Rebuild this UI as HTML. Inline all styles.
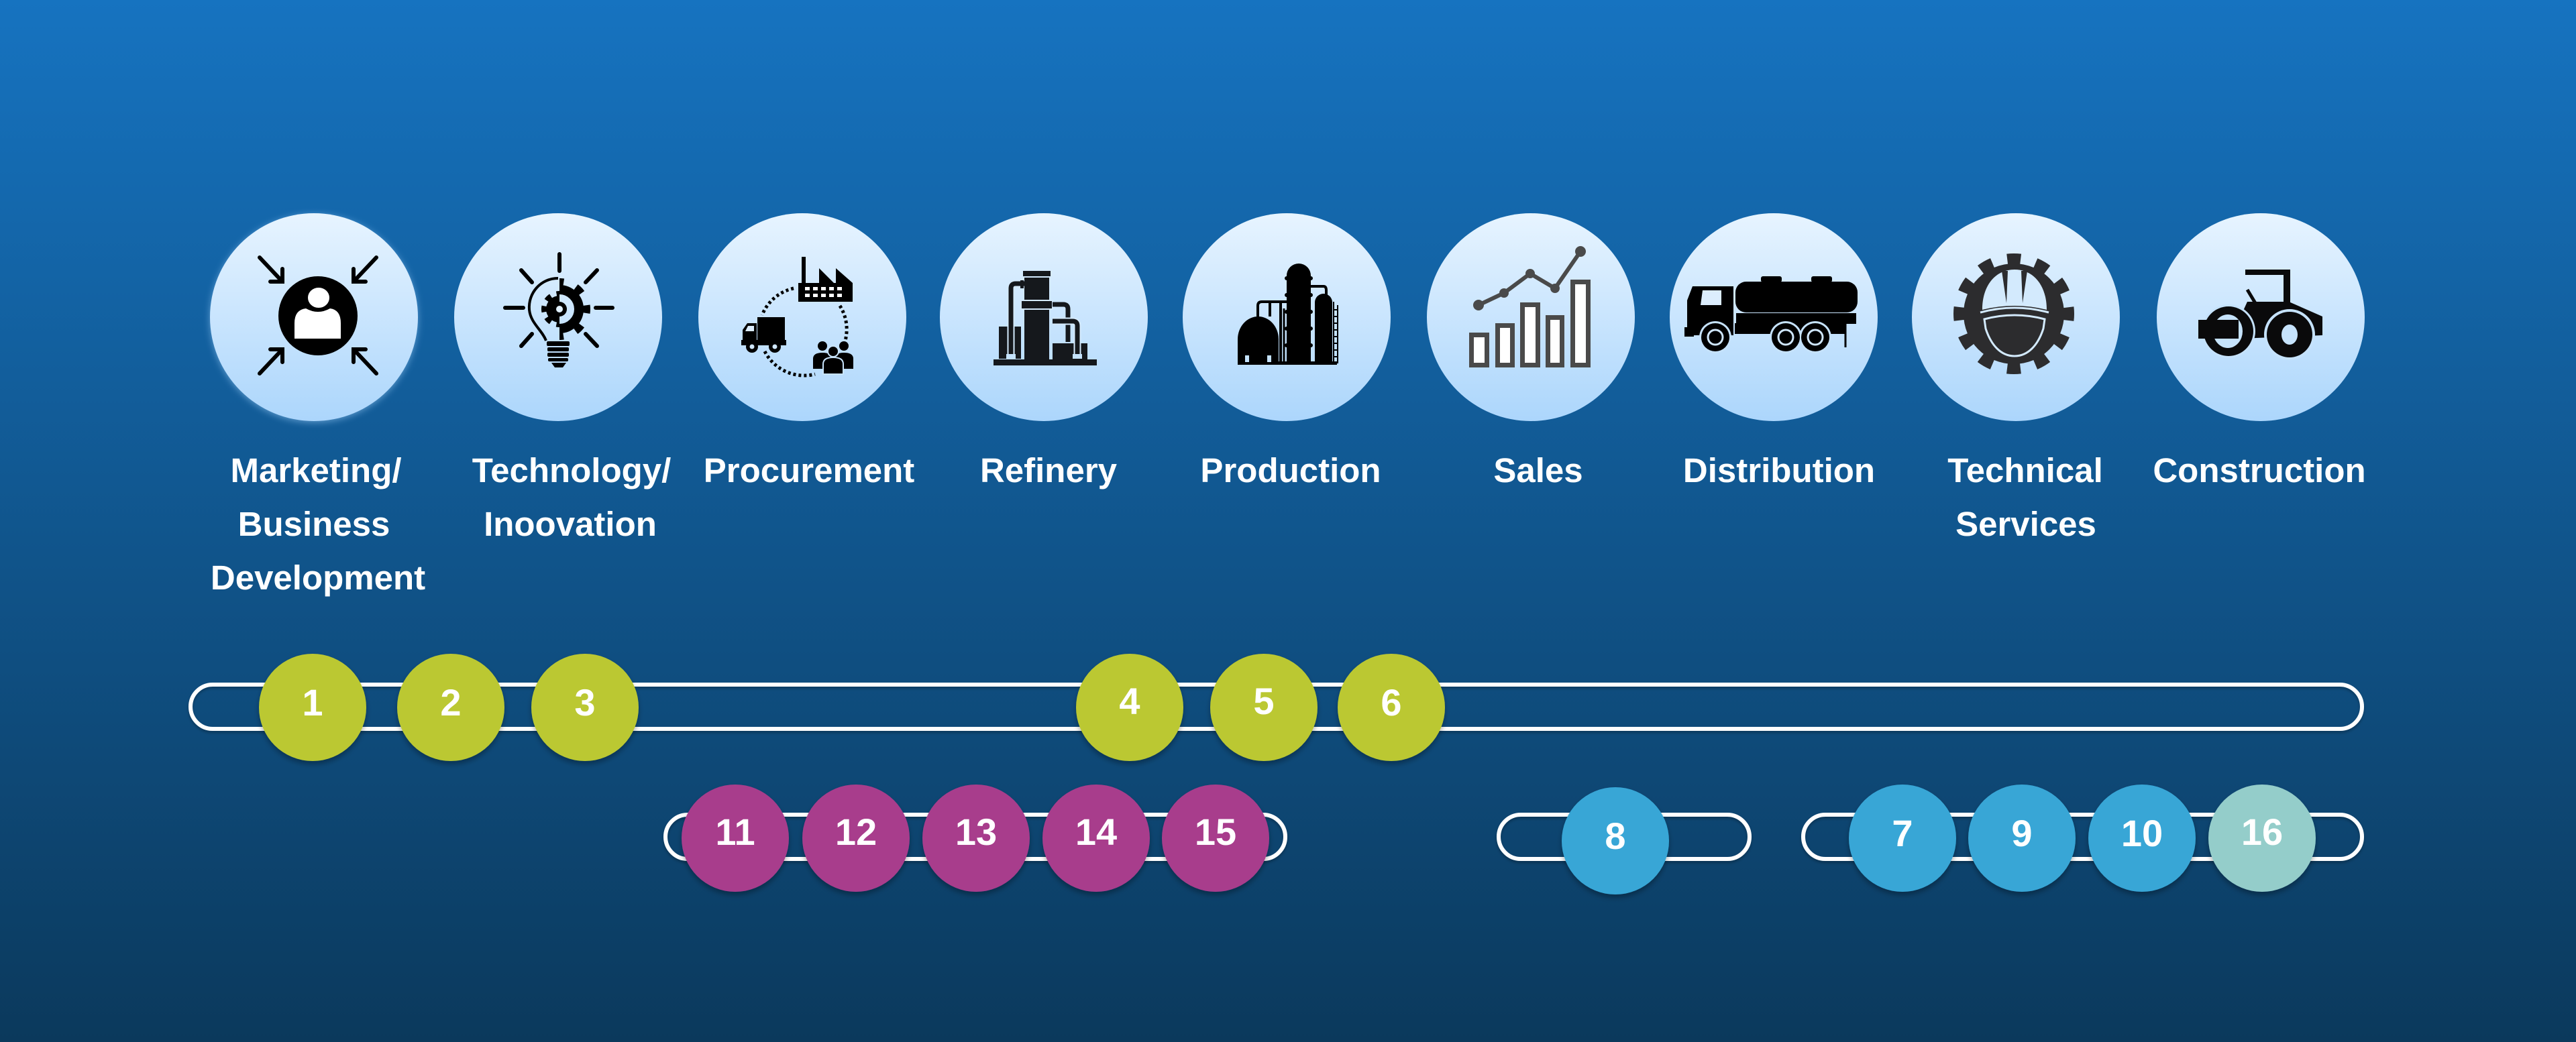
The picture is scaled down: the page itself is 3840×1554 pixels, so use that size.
<!DOCTYPE html>
<html><head><meta charset="utf-8">
<style>
html,body{margin:0;padding:0;width:3840px;height:1554px;overflow:hidden;background:#0e4f80;}
svg{display:block}
.lbl{font-family:"Liberation Sans",Arial,sans-serif;font-weight:700;font-size:51px;fill:#fff;text-anchor:middle;}
.num{font-family:"Liberation Sans",Arial,sans-serif;font-weight:700;font-size:56px;fill:#fff;text-anchor:middle;}
</style></head>
<body>
<svg width="3840" height="1554" viewBox="0 0 3840 1554" xmlns="http://www.w3.org/2000/svg">
<defs>
<linearGradient id="bg" x1="0" y1="0" x2="0" y2="1">
<stop offset="0" stop-color="#1673c0"/>
<stop offset="1" stop-color="#0b395c"/>
</linearGradient>
<linearGradient id="cg" x1="0" y1="0" x2="0" y2="1">
<stop offset="0" stop-color="#e7f4ff"/>
<stop offset="1" stop-color="#acd6fc"/>
</linearGradient>
<filter id="sh" x="-20%" y="-20%" width="140%" height="150%">
<feDropShadow dx="0" dy="5" stdDeviation="4" flood-color="#000" flood-opacity="0.3"/>
</filter>
<filter id="bsh" x="-5%" y="-30%" width="110%" height="170%">
<feDropShadow dx="0" dy="3" stdDeviation="2" flood-color="#000" flood-opacity="0.25"/>
</filter>
<filter id="glow" x="-20%" y="-20%" width="140%" height="140%">
<feDropShadow dx="0" dy="2" stdDeviation="5" flood-color="#a8d6ff" flood-opacity="0.5"/>
</filter>
<clipPath id="rh"><rect x="834" y="400" width="60" height="120"/></clipPath>
<clipPath id="lh"><rect x="790" y="400" width="44" height="120"/></clipPath>
</defs>

<rect x="0" y="0" width="3840" height="1554" fill="url(#bg)"/>

<!-- Big icon circles -->
<circle cx="468" cy="473" r="155" fill="url(#cg)" filter="url(#glow)"/>
<circle cx="832" cy="473" r="155" fill="url(#cg)"/>
<circle cx="1196" cy="473" r="155" fill="url(#cg)"/>
<circle cx="1556" cy="473" r="155" fill="url(#cg)"/>
<circle cx="1918" cy="473" r="155" fill="url(#cg)"/>
<circle cx="2282" cy="473" r="155" fill="url(#cg)"/>
<circle cx="2644" cy="473" r="155" fill="url(#cg)"/>
<circle cx="3005" cy="473" r="155" fill="url(#cg)"/>
<circle cx="3370" cy="473" r="155" fill="url(#cg)"/>

<!-- Icon 1: marketing -->
<g>
<circle cx="474" cy="471" r="59" fill="#000"/>
<path d="M439 505 L439 482 Q439 462 456 460 Q474 470 492 460 Q508 462 508 482 L508 505 Z" fill="#fff"/>
<ellipse cx="475" cy="444" rx="18" ry="17" fill="#fff" stroke="#000" stroke-width="4"/>
<g stroke="#000" stroke-width="6" fill="none" stroke-linecap="round">
<path d="M387 384 L420 419 M421 401 L421 420 L403 420"/>
<path d="M561 384 L528 419 M527 401 L527 420 L545 420"/>
<path d="M387 557 L420 522 M421 540 L421 521 L403 521"/>
<path d="M561 557 L528 522 M527 540 L527 521 L545 521"/>
</g>
</g>

<!-- Icon 2: lightbulb gear -->
<g>
<g stroke="#000" stroke-width="6" stroke-linecap="round">
<line x1="834" y1="379" x2="834" y2="404"/>
<line x1="753" y1="459" x2="780" y2="459"/>
<line x1="888" y1="459" x2="913" y2="459"/>
<line x1="777" y1="403" x2="793" y2="421"/>
<line x1="890" y1="403" x2="873" y2="421"/>
<line x1="793" y1="498" x2="777" y2="516"/>
<line x1="873" y1="498" x2="890" y2="516"/>
</g>
<path d="M832 415 C806 415 787 437 789 462 C791 482 808 492 814 508" fill="none" stroke="#000" stroke-width="4"/>
<g clip-path="url(#rh)">
<circle cx="834" cy="461" r="29" fill="none" stroke="#000" stroke-width="14"/>
<circle cx="834" cy="461" r="40" fill="none" stroke="#000" stroke-width="12" stroke-dasharray="12 19.4" stroke-dashoffset="6"/>
</g>
<g clip-path="url(#lh)">
<circle cx="834" cy="461" r="20" fill="#000"/>
<circle cx="834" cy="461" r="23" fill="none" stroke="#000" stroke-width="8" stroke-dasharray="9 9.06" stroke-dashoffset="4.5"/>
</g>
<circle cx="834" cy="461" r="11" fill="#000"/>
<circle cx="834" cy="461" r="5" fill="#e0f0fe"/>
<rect x="815" y="509" width="34" height="7" rx="2" fill="#000"/>
<rect x="816" y="518" width="32" height="6" rx="2" fill="#000"/>
<rect x="816" y="526" width="32" height="6" rx="2" fill="#000"/>
<rect x="817" y="534" width="30" height="5" rx="2" fill="#000"/>
<path d="M822 541 L844 541 L839 548 L827 548 Z" fill="#000"/>
</g>

<!-- Icon 3: procurement -->
<g>
<path d="M1190 450 L1190 422 L1195 422 L1195 383 L1201 383 L1201 422 L1221 422 L1221 400 L1243 422 L1246 422 L1246 400 L1271 422 L1271 450 Z" fill="#000"/>
<g fill="#fff">
<rect x="1200" y="428" width="7" height="5"/><rect x="1212" y="428" width="7" height="5"/><rect x="1224" y="428" width="7" height="5"/><rect x="1236" y="428" width="7" height="5"/><rect x="1248" y="428" width="7" height="5"/>
<rect x="1200" y="438" width="7" height="5"/><rect x="1212" y="438" width="7" height="5"/><rect x="1224" y="438" width="7" height="5"/><rect x="1236" y="438" width="7" height="5"/><rect x="1248" y="438" width="7" height="5"/>
</g>
<g fill="none" stroke="#000" stroke-width="5" stroke-dasharray="4 4">
<path d="M1183 430 A66 66 0 0 0 1136 470"/>
<path d="M1140 524 A66 66 0 0 0 1215 558"/>
<path d="M1252 456 A66 66 0 0 1 1260 508"/>
</g>
<rect x="1129" y="473" width="41" height="40" fill="#000"/>
<path d="M1107 515 L1107 492 L1114 482 L1128 482 L1128 515 Z" fill="#000"/>
<path d="M1111 494 L1115 486 L1124 486 L1124 494 Z" fill="#dcedfd"/>
<rect x="1105" y="507" width="67" height="8" fill="#000"/>
<circle cx="1121" cy="517" r="9" fill="#000"/><circle cx="1121" cy="517" r="3.5" fill="#cfe6fb"/>
<circle cx="1155" cy="517" r="9" fill="#000"/><circle cx="1155" cy="517" r="3.5" fill="#cfe6fb"/>
<circle cx="1226" cy="516" r="7" fill="#000"/>
<circle cx="1258" cy="516" r="7" fill="#000"/>
<path d="M1212 550 L1212 535 Q1212 526 1226 526 Q1240 526 1240 535 L1240 550 Z" fill="#000"/>
<path d="M1244 550 L1244 535 Q1244 526 1258 526 Q1272 526 1272 535 L1272 550 Z" fill="#000"/>
<circle cx="1242" cy="524" r="8" fill="#000" stroke="#c8e4fc" stroke-width="2"/>
<path d="M1227 558 L1227 543 Q1227 533 1242 533 Q1257 533 1257 543 L1257 558 Z" fill="#000" stroke="#c8e4fc" stroke-width="2"/>
</g>

<!-- Icon 4: refinery -->
<g fill="#15181c">
<rect x="1481" y="536" width="154" height="9"/>
<rect x="1489" y="487" width="33" height="48"/>
<rect x="1569" y="512" width="52" height="24"/>
<rect x="1527" y="414" width="37" height="122"/>
<rect x="1525" y="404" width="41" height="8"/>
<rect x="1522" y="448" width="47" height="13" stroke="#d4eafd" stroke-width="2"/>
<path d="M1507 533 L1507 430 Q1507 423 1514 423 L1527 423" fill="none" stroke="#d4eafd" stroke-width="11"/>
<path d="M1507 533 L1507 430 Q1507 423 1514 423 L1527 423" fill="none" stroke="#15181c" stroke-width="7"/>
<rect x="1521" y="418" width="5" height="12"/>
<path d="M1569 454 L1585 454 Q1592 454 1592 461 L1592 510" fill="none" stroke="#15181c" stroke-width="7"/>
<path d="M1569 479 L1599 479 Q1606 479 1606 486 L1606 530" fill="none" stroke="#d4eafd" stroke-width="11"/>
<path d="M1569 479 L1599 479 Q1606 479 1606 486 L1606 530" fill="none" stroke="#15181c" stroke-width="7"/>
<rect x="1500" y="528" width="14" height="7" fill="#c4e2fc"/>
<rect x="1599" y="528" width="14" height="7" fill="#c4e2fc"/>
</g>

<!-- Icon 5: production -->
<g fill="#000">
<rect x="1845" y="539" width="148" height="5"/>
<path d="M1918 542 L1918 411 A18 18 0 0 1 1954 411 L1954 542 Z"/>
<path d="M1960 542 L1960 451 A13 13 0 0 1 1986 451 L1986 542 Z"/>
<path d="M1845 542 L1845 506 A30.5 34 0 0 1 1906 506 L1906 542 Z"/>
<path d="M1945 427 L1973 427 Q1977 427 1977 433 L1977 440" fill="none" stroke="#000" stroke-width="4"/>
<path d="M1875 472 L1875 456 Q1875 450 1881 450 L1918 450" fill="none" stroke="#000" stroke-width="4"/>
<line x1="1893" y1="450" x2="1893" y2="472" stroke="#000" stroke-width="4"/>
<line x1="1909" y1="450" x2="1909" y2="542" stroke="#000" stroke-width="4"/>
<line x1="1914" y1="460" x2="1914" y2="542" stroke="#000" stroke-width="3"/>
<g fill="none" stroke="#000" stroke-width="2">
<line x1="1988" y1="450" x2="1988" y2="542"/>
<line x1="1994" y1="455" x2="1994" y2="542"/>
</g>
<g stroke="#000" stroke-width="2">
<line x1="1988" y1="462" x2="1994" y2="462"/><line x1="1988" y1="472" x2="1994" y2="472"/><line x1="1988" y1="482" x2="1994" y2="482"/><line x1="1988" y1="492" x2="1994" y2="492"/><line x1="1988" y1="502" x2="1994" y2="502"/><line x1="1988" y1="512" x2="1994" y2="512"/><line x1="1988" y1="522" x2="1994" y2="522"/><line x1="1988" y1="532" x2="1994" y2="532"/>
</g>
<g>
<circle cx="1918" cy="415" r="3"/><circle cx="1954" cy="415" r="3"/><circle cx="1918" cy="440" r="3"/><circle cx="1954" cy="440" r="3"/><circle cx="1918" cy="465" r="3"/><circle cx="1954" cy="465" r="3"/><circle cx="1918" cy="490" r="3"/><circle cx="1954" cy="490" r="3"/><circle cx="1918" cy="515" r="3"/><circle cx="1954" cy="515" r="3"/>
</g>
<rect x="1856" y="530" width="6" height="10" fill="#c4e2fc"/>
<rect x="1889" y="530" width="6" height="10" fill="#c4e2fc"/>
</g>

<!-- Icon 6: sales -->
<g>
<g fill="#fff" stroke="#4a4a4a" stroke-width="7">
<rect x="2193.5" y="499.5" width="23" height="45"/>
<rect x="2232.5" y="485.5" width="22" height="59"/>
<rect x="2269.5" y="454.5" width="23" height="90"/>
<rect x="2307.5" y="473.5" width="21" height="71"/>
<rect x="2344.5" y="420.5" width="23" height="124"/>
</g>
<polyline points="2204,455 2242,437 2281,408 2318,430 2356,375" fill="none" stroke="#4a4a4a" stroke-width="6"/>
<g fill="#4a4a4a">
<circle cx="2204" cy="455" r="8"/><circle cx="2242" cy="437" r="7"/><circle cx="2281" cy="408" r="7"/><circle cx="2318" cy="430" r="7"/><circle cx="2356" cy="375" r="8"/>
</g>
</g>

<!-- Icon 7: distribution truck -->
<g fill="#000">
<rect x="2587" y="420" width="182" height="46" rx="16"/>
<rect x="2625" y="412" width="31" height="9" rx="3"/>
<rect x="2700" y="412" width="31" height="9" rx="3"/>
<rect x="2588" y="467" width="179" height="16"/>
<path d="M2515 500 L2515 448 L2523 427 L2584 427 L2584 500 Z"/>
<path d="M2535 455 L2538 433 L2566 433 L2566 455 Z" fill="#dcedfd"/>
<rect x="2586" y="482" width="164" height="16"/>
<rect x="2511" y="488" width="14" height="14"/>
<line x1="2751" y1="482" x2="2751" y2="518" stroke="#000" stroke-width="3"/>
<circle cx="2557" cy="503" r="24" fill="#c5e2fc"/>
<circle cx="2662" cy="503" r="24" fill="#c5e2fc"/>
<circle cx="2706" cy="503" r="24" fill="#c5e2fc"/>
<circle cx="2557" cy="503" r="21"/>
<circle cx="2662" cy="503" r="21"/>
<circle cx="2706" cy="503" r="21"/>
<g fill="none" stroke="#cfe6fb" stroke-width="3">
<circle cx="2557" cy="503" r="11"/><circle cx="2662" cy="503" r="11"/><circle cx="2706" cy="503" r="11"/>
</g>
</g>

<!-- Icon 8: gear helmet -->
<g>
<circle cx="3002" cy="468" r="75" fill="#2c2c2e"/>
<circle cx="3002" cy="468" r="82" fill="none" stroke="#2c2c2e" stroke-width="16" stroke-dasharray="20 22.935" stroke-dashoffset="10"/>
<!-- light dome (hole) -->
<path d="M2955 462 C2955 424 2976 402 3003 402 C3030 402 3051 424 3051 462 Q3003 450 2955 462 Z" fill="#d3eafd"/>
<!-- dark stripes on dome -->
<path d="M2984 404 L2993 404 L2991 452 Z" fill="#2c2c2e"/>
<path d="M3022 404 L3013 404 L3015 452 Z" fill="#2c2c2e"/>
<!-- brim light line -->
<path d="M2952 466 Q3003 452 3054 466" fill="none" stroke="#d3eafd" stroke-width="3"/>
<!-- face outline -->
<path d="M2958 476 Q3003 464 3048 476 L3046 490 C3038 515 3023 531 3003 531 C2983 531 2968 515 2960 490 Z" fill="#2c2c2e" stroke="#d3eafd" stroke-width="3"/>
</g>

<!-- Icon 9: construction roller -->
<g fill="#0a0a0b">
<path d="M3347 402 L3414 402 L3414 456 L3404 456 L3404 410 L3347 410 Z"/>
<path d="M3340 472 L3350 450 L3412 450 L3462 472 L3462 500 L3340 505 Z"/>
<line x1="3350" y1="432" x2="3362" y2="452" stroke="#0a0a0b" stroke-width="5"/>
<circle cx="3322" cy="494" r="40" fill="#c5e2fc"/>
<circle cx="3413" cy="499" r="38" fill="#c5e2fc"/>
<circle cx="3322" cy="494" r="37"/>
<ellipse cx="3321" cy="494" rx="22" ry="25" fill="#c6e3fc"/>
<circle cx="3413" cy="499" r="34"/>
<ellipse cx="3413" cy="499" rx="12" ry="15" fill="#c6e3fc"/>
<rect x="3277" y="477" width="60" height="28"/>
</g>

<!-- Labels -->
<text class="lbl" x="471" y="719">Marketing/</text>
<text class="lbl" x="468" y="799">Business</text>
<text class="lbl" x="474" y="879">Development</text>
<text class="lbl" x="852" y="719">Technology/</text>
<text class="lbl" x="850" y="799">Inoovation</text>
<text class="lbl" x="1206" y="719">Procurement</text>
<text class="lbl" x="1563" y="719">Refinery</text>
<text class="lbl" x="1924" y="719">Production</text>
<text class="lbl" x="2293" y="719">Sales</text>
<text class="lbl" x="2652" y="719">Distribution</text>
<text class="lbl" x="3019" y="719">Technical</text>
<text class="lbl" x="3020" y="799">Services</text>
<text class="lbl" x="3368" y="719">Construction</text>

<!-- Bars -->
<g fill="none" stroke="#fff" stroke-width="6" filter="url(#bsh)">
<rect x="284" y="1021" width="3237" height="66" rx="33"/>
<rect x="992" y="1215" width="924" height="66" rx="33"/>
<rect x="2234" y="1215" width="374" height="66" rx="33"/>
<rect x="2688" y="1215" width="833" height="66" rx="33"/>
</g>

<!-- Number circles -->
<g filter="url(#sh)">
<circle cx="466" cy="1055" r="80" fill="#bbc832"/>
<circle cx="672" cy="1055" r="80" fill="#bbc832"/>
<circle cx="872" cy="1055" r="80" fill="#bbc832"/>
<circle cx="1684" cy="1055" r="80" fill="#bbc832"/>
<circle cx="1884" cy="1055" r="80" fill="#bbc832"/>
<circle cx="2074" cy="1055" r="80" fill="#bbc832"/>
<circle cx="1096" cy="1250" r="80" fill="#a83e8c"/>
<circle cx="1276" cy="1250" r="80" fill="#a83e8c"/>
<circle cx="1455" cy="1250" r="80" fill="#a83e8c"/>
<circle cx="1634" cy="1250" r="80" fill="#a83e8c"/>
<circle cx="1812" cy="1250" r="80" fill="#a83e8c"/>
<circle cx="2408" cy="1254" r="80" fill="#37a6d6"/>
<circle cx="2836" cy="1250" r="80" fill="#37a6d6"/>
<circle cx="3014" cy="1250" r="80" fill="#37a6d6"/>
<circle cx="3193" cy="1250" r="80" fill="#37a6d6"/>
<circle cx="3372" cy="1250" r="80" fill="#94cdca"/>
</g>
<text class="num" x="466" y="1067">1</text>
<text class="num" x="672" y="1067">2</text>
<text class="num" x="872" y="1067">3</text>
<text class="num" x="1684" y="1065">4</text>
<text class="num" x="1884" y="1065">5</text>
<text class="num" x="2074" y="1067">6</text>
<text class="num" x="1096" y="1260">11</text>
<text class="num" x="1276" y="1260">12</text>
<text class="num" x="1455" y="1260">13</text>
<text class="num" x="1634" y="1260">14</text>
<text class="num" x="1812" y="1260">15</text>
<text class="num" x="2408" y="1266">8</text>
<text class="num" x="2836" y="1262">7</text>
<text class="num" x="3014" y="1262">9</text>
<text class="num" x="3193" y="1262">10</text>
<text class="num" x="3372" y="1260">16</text>
</svg>
</body></html>
